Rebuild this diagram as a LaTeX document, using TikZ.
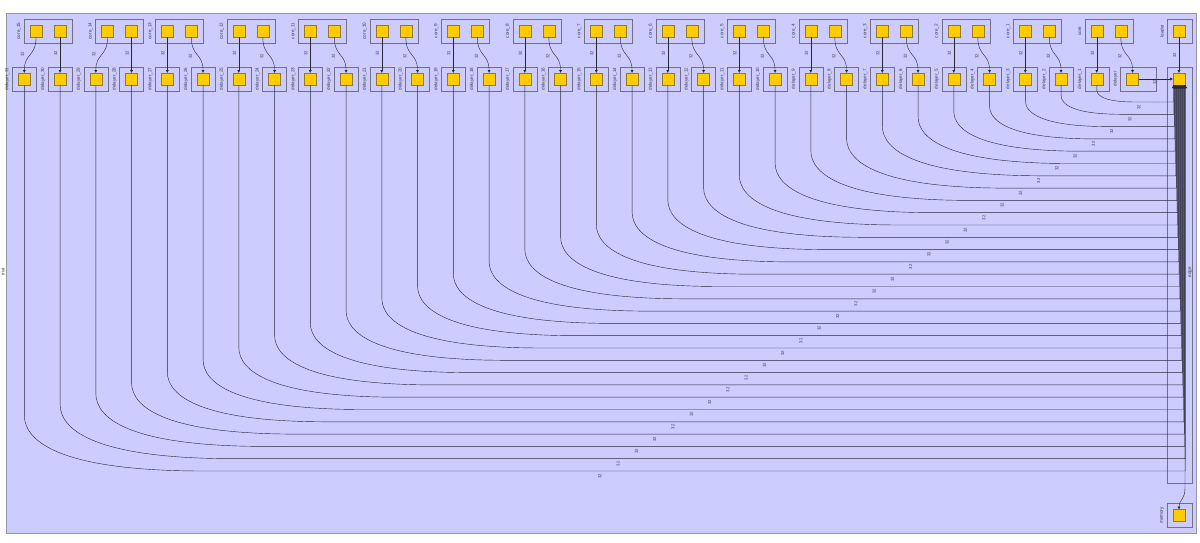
\documentclass[tikz,border=0pt]{standalone}
\usepackage{fontspec}
\setmainfont{Liberation Sans}
\usetikzlibrary{arrows.meta,calc}
\definecolor{bg}{RGB}{204,204,255}
\definecolor{outer}{RGB}{150,150,165}
\definecolor{boxline}{RGB}{112,112,135}
\definecolor{sqfill}{RGB}{255,204,0}
\definecolor{sqline}{RGB}{150,120,35}
\definecolor{txt}{RGB}{60,60,70}
\definecolor{wire}{RGB}{40,40,55}
\begin{document}
\begin{tikzpicture}[x=1pt,y=-1pt,
  box/.style={draw=boxline,line width=0.6pt,inner sep=0pt,outer sep=0pt,anchor=north west,minimum height=24pt},
  sq/.style={draw=sqline,fill=sqfill,line width=0.6pt,inner sep=0pt,outer sep=0pt,minimum size=12pt,anchor=north west},
  lbl/.style={font=\fontsize{4.6}{5}\selectfont,text=txt,rotate=90,inner sep=0pt},
  elbl/.style={font=\fontsize{4.3}{5}\selectfont,text=txt,rotate=90,inner sep=0pt},
  conn/.style={draw=wire,line width=0.42pt,-{Latex[length=3pt,width=3pt]}}
]
\useasboundingbox (0,0) rectangle (1200,542);
% container
\node[box,draw=outer,fill=bg,minimum width=1189.5pt,minimum height=519.5pt] (trial) at (6.5,13.5) {};
\node[lbl] at (3,272) {trial};

% delayers
\foreach \k in {1,...,31}{
  \pgfmathsetmacro{\bx}{12.3+(31-\k)*35.75}
  \node[box,minimum width=24pt] (dbox\k) at (\bx,67) {};
  \node[sq] (dsq\k) at (\bx+6,73) {};
  \node[lbl] at (\bx-5,79) {delayer\_\k};
}
\node[box,minimum width=36pt] (dbox0) at (1120.55,67) {};
\node[sq] (dsq0) at (1126.55,73) {};
\node[lbl] at (1115.5,79) {delayer};

% cores
\foreach \m in {0,...,15}{
  \pgfmathsetmacro{\bx}{\m>13 ? 12.3+(30-2*\m)*35.75+11.75 : 12.3+(30-2*\m)*35.75}
  \node[box,minimum width=48pt] (cbox\m) at (\bx,19) {};
  \node[sq] (csqa\m) at (\bx+6,25) {};
  \node[sq] (csqb\m) at (\bx+30,25) {};
  \node[lbl] at (\bx-5,31) {\ifnum\m=0 core\else core\_\m\fi};
}

% loader, edge, memory
\node[box,minimum width=25pt] (lbox) at (1167,19) {};
\node[sq] (lsq) at (1173,25) {};
\node[lbl] at (1162,31) {loader};
\node[box,minimum width=25pt,minimum height=416pt] (ebox) at (1167,67) {};
\node[sq] (esq) at (1173,73) {};
\node[lbl] at (1190,272) {edge};
\node[box,minimum width=25pt] (mbox) at (1167,503.5) {};
\node[sq] (msq) at (1173,509.5) {};
\node[lbl] at (1162,515.5) {memory};

% core -> delayer connectors
\foreach \m in {0,...,15}{
  \pgfmathtruncatemacro{\na}{2*\m+1}
  \pgfmathtruncatemacro{\nb}{2*\m}
  \ifnum\m>13
    \draw[conn] (csqa\m.south) .. controls +(0,20) and +(0,-20) .. (dsq\na.north);
    \node[elbl] at ($(dsq\na.north)+(-2,-19)$) {32};
    \draw[conn] (csqb\m.south) -- (dsq\nb.north);
    \node[elbl] at ($(csqb\m.south)+(-4.3,16)$) {32};
  \else
    \draw[conn] (csqa\m.south) -- (dsq\na.north);
    \node[elbl] at ($(csqa\m.south)+(-4.3,16)$) {32};
    \draw[conn] (csqb\m.south) .. controls +(0,20) and +(0,-20) .. (dsq\nb.north);
    \node[elbl] at ($(csqb\m.south)+(-1,19)$) {32};
  \fi
}
\draw[conn] (lsq.south) -- (esq.north);
\node[elbl] at ($(lsq.south)+(-4.3,18)$) {32};
\draw[conn] (dsq0.east) -- (esq.west);
\node[elbl] at (1155,82.5) {32};

% delayer -> edge long connectors
\foreach \k in {1,...,31}{
  \pgfmathsetmacro{\xk}{12.3+(31-\k)*35.75+12}
  \pgfmathsetmacro{\yk}{102+(\k-1)*12.3}
  \pgfmathsetmacro{\hk}{\k<7 ? 12+7*(\k-1) : (\k>27 ? 50+1.5*(\k-27) : 50)}
  \pgfmathsetmacro{\wk}{3.2*\hk}
  \pgfmathsetmacro{\yb}{\yk-\hk}
  \pgfmathsetmacro{\xe}{1173.5+(\k-1)*0.4}
  \pgfmathsetmacro{\lx}{\k==1 ? 1139 : 1130-18.28*(\k-2)}
  \coordinate (e\k) at (\xe,\yk);
  \draw[conn] (dsq\k.south) -- (\xk,\yb) .. controls (\xk,\yb+0.5*\hk) and (\xk+0.22*\wk,\yk) .. (\xk+\wk,\yk) -- (e\k) -- (e\k |- esq.south);
  \node[elbl] at (\lx,\yk+5) {32};
}
% edge -> memory
\draw[conn] (esq.south east) -- ++(0,403) .. controls +(0,12) and +(0,-10) .. (msq.north);
\end{tikzpicture}
\end{document}
